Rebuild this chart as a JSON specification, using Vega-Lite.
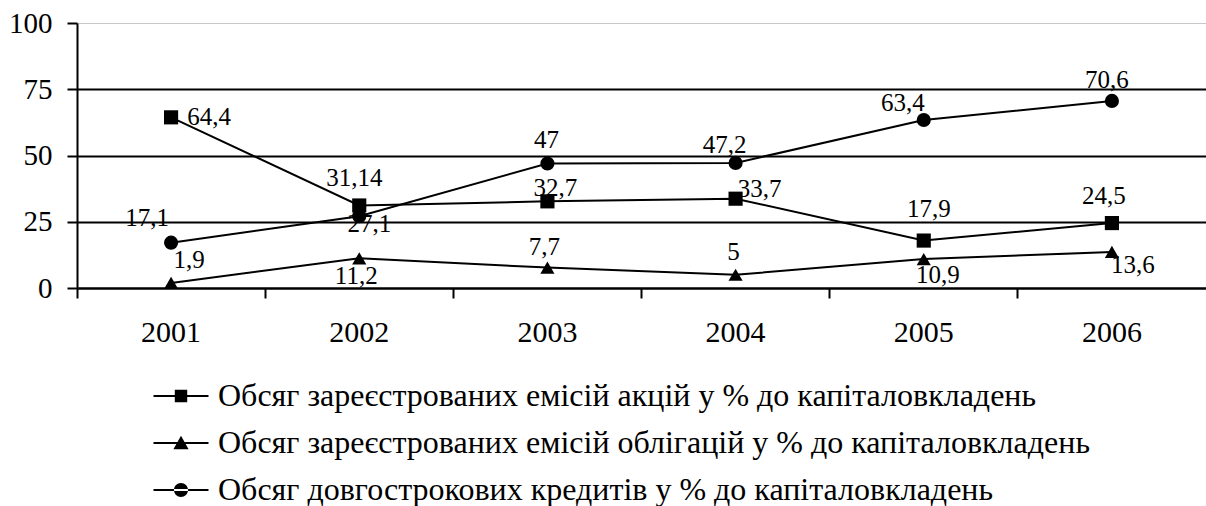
{
  "$schema": "https://vega.github.io/schema/vega-lite/v6.json",
  "autosize": {"type": "none"},
  "padding": {"left": 77, "top": 23, "right": 0, "bottom": 218},
  "width": 1129,
  "height": 265,
  "background": "white",
  "data": {
    "values": [
      {"year": "2001", "code": "A", "series": "Обсяг зареєстрованих емісій акцій у % до капіталовкладень", "value": 64.4, "label": "64,4"},
      {"year": "2002", "code": "A", "series": "Обсяг зареєстрованих емісій акцій у % до капіталовкладень", "value": 31.14, "label": "31,14"},
      {"year": "2003", "code": "A", "series": "Обсяг зареєстрованих емісій акцій у % до капіталовкладень", "value": 32.7, "label": "32,7"},
      {"year": "2004", "code": "A", "series": "Обсяг зареєстрованих емісій акцій у % до капіталовкладень", "value": 33.7, "label": "33,7"},
      {"year": "2005", "code": "A", "series": "Обсяг зареєстрованих емісій акцій у % до капіталовкладень", "value": 17.9, "label": "17,9"},
      {"year": "2006", "code": "A", "series": "Обсяг зареєстрованих емісій акцій у % до капіталовкладень", "value": 24.5, "label": "24,5"},
      {"year": "2001", "code": "B", "series": "Обсяг зареєстрованих емісій облігацій у % до капіталовкладень", "value": 1.9, "label": "1,9"},
      {"year": "2002", "code": "B", "series": "Обсяг зареєстрованих емісій облігацій у % до капіталовкладень", "value": 11.2, "label": "11,2"},
      {"year": "2003", "code": "B", "series": "Обсяг зареєстрованих емісій облігацій у % до капіталовкладень", "value": 7.7, "label": "7,7"},
      {"year": "2004", "code": "B", "series": "Обсяг зареєстрованих емісій облігацій у % до капіталовкладень", "value": 5, "label": "5"},
      {"year": "2005", "code": "B", "series": "Обсяг зареєстрованих емісій облігацій у % до капіталовкладень", "value": 10.9, "label": "10,9"},
      {"year": "2006", "code": "B", "series": "Обсяг зареєстрованих емісій облігацій у % до капіталовкладень", "value": 13.6, "label": "13,6"},
      {"year": "2001", "code": "C", "series": "Обсяг довгострокових кредитів у % до капіталовкладень", "value": 17.1, "label": "17,1"},
      {"year": "2002", "code": "C", "series": "Обсяг довгострокових кредитів у % до капіталовкладень", "value": 27.1, "label": "27,1"},
      {"year": "2003", "code": "C", "series": "Обсяг довгострокових кредитів у % до капіталовкладень", "value": 47, "label": "47"},
      {"year": "2004", "code": "C", "series": "Обсяг довгострокових кредитів у % до капіталовкладень", "value": 47.2, "label": "47,2"},
      {"year": "2005", "code": "C", "series": "Обсяг довгострокових кредитів у % до капіталовкладень", "value": 63.4, "label": "63,4"},
      {"year": "2006", "code": "C", "series": "Обсяг довгострокових кредитів у % до капіталовкладень", "value": 70.6, "label": "70,6"}
    ]
  },
  "encoding": {
    "x": {
      "field": "year", "type": "ordinal",
      "scale": {"type": "band", "paddingInner": 0, "paddingOuter": 0},
      "axis": {
        "title": null, "labelAngle": 0, "bandPosition": 0, "grid": false,
        "domainColor": "black", "domainWidth": 2,
        "tickColor": "black", "tickWidth": 2, "tickSize": 10,
        "labelFont": "Liberation Serif", "labelFontSize": 30, "labelColor": "black", "labelPadding": 19
      }
    },
    "y": {
      "field": "value", "type": "quantitative",
      "scale": {"domain": [0, 100], "nice": false, "zero": true},
      "axis": {
        "title": null, "values": [0, 25, 50, 75, 100],
        "domainColor": "black", "domainWidth": 2,
        "tickColor": "black", "tickWidth": 2, "tickSize": 10,
        "labelFont": "Liberation Serif", "labelFontSize": 29, "labelColor": "black", "labelPadding": 15,
        "grid": true,
        "gridColor": {"condition": {"test": "datum.value === 100", "value": "#c8c8c8"}, "value": "black"},
        "gridWidth": {"condition": {"test": "datum.value === 100", "value": 1}, "value": 2}
      }
    }
  },
  "layer": [
    {
      "mark": {"type": "line", "color": "black", "strokeWidth": 2},
      "encoding": {"detail": {"field": "code"}}
    },
    {
      "mark": {"type": "point", "filled": true, "color": "black", "opacity": 1, "size": 200},
      "encoding": {
        "shape": {
          "field": "series", "type": "nominal",
          "scale": {
            "domain": [
              "Обсяг зареєстрованих емісій акцій у % до капіталовкладень",
              "Обсяг зареєстрованих емісій облігацій у % до капіталовкладень",
              "Обсяг довгострокових кредитів у % до капіталовкладень"
            ],
            "range": ["square", "triangle-up", "circle"]
          },
          "legend": null
        }
      }
    },
    {
      "transform": [{"filter": "datum.value < 0"}],
      "mark": {"type": "point", "filled": true, "color": "black", "opacity": 1},
      "encoding": {
        "shape": {
          "field": "series", "type": "nominal",
          "scale": {
            "domain": [
              "Обсяг зареєстрованих емісій акцій у % до капіталовкладень",
              "Обсяг зареєстрованих емісій облігацій у % до капіталовкладень",
              "Обсяг довгострокових кредитів у % до капіталовкладень"
            ],
            "range": [
              "M-2.75,-0.1H2.75V0.1H-2.75Z M-0.62,-0.62H0.62V0.62H-0.62Z",
              "M-2.75,-0.1H2.75V0.1H-2.75Z M0,-0.72L0.76,0.62L-0.76,0.62Z",
              "M-2.75,-0.1H2.75V0.1H-2.75Z M-0.7,0A0.7,0.7 0 1,0 0.7,0A0.7,0.7 0 1,0 -0.7,0Z"
            ]
          },
          "legend": {
            "title": null, "orient": "none", "legendX": 88, "legendY": 357, "padding": 0,
            "labelFont": "Liberation Serif", "labelFontSize": 32, "labelColor": "black", "labelLimit": 0,
            "labelOffset": 21, "rowPadding": 15, "symbolSize": 400,
            "symbolFillColor": "black", "symbolOpacity": 1
          }
        }
      }
    },
    {
      "encoding": {"text": {"field": "label", "type": "nominal"}},
      "layer": [
        {"transform": [{"filter": "datum.code == 'A' && datum.year == '2001'"}], "mark": {"type": "text", "dx": 38, "dy": 8}},
        {"transform": [{"filter": "datum.code == 'A' && datum.year == '2002'"}], "mark": {"type": "text", "dx": -5, "dy": -19}},
        {"transform": [{"filter": "datum.code == 'A' && datum.year == '2003'"}], "mark": {"type": "text", "dx": 8, "dy": -5}},
        {"transform": [{"filter": "datum.code == 'A' && datum.year == '2004'"}], "mark": {"type": "text", "dx": 24, "dy": -2}},
        {"transform": [{"filter": "datum.code == 'A' && datum.year == '2005'"}], "mark": {"type": "text", "dx": 5, "dy": -24}},
        {"transform": [{"filter": "datum.code == 'A' && datum.year == '2006'"}], "mark": {"type": "text", "dx": -8, "dy": -19}},
        {"transform": [{"filter": "datum.code == 'B' && datum.year == '2001'"}], "mark": {"type": "text", "dx": 18, "dy": -15}},
        {"transform": [{"filter": "datum.code == 'B' && datum.year == '2002'"}], "mark": {"type": "text", "dx": -3, "dy": 26}},
        {"transform": [{"filter": "datum.code == 'B' && datum.year == '2003'"}], "mark": {"type": "text", "dx": -3, "dy": -13}},
        {"transform": [{"filter": "datum.code == 'B' && datum.year == '2004'"}], "mark": {"type": "text", "dx": -2, "dy": -15}},
        {"transform": [{"filter": "datum.code == 'B' && datum.year == '2005'"}], "mark": {"type": "text", "dx": 14, "dy": 24}},
        {"transform": [{"filter": "datum.code == 'B' && datum.year == '2006'"}], "mark": {"type": "text", "dx": 21, "dy": 21}},
        {"transform": [{"filter": "datum.code == 'C' && datum.year == '2001'"}], "mark": {"type": "text", "dx": -24, "dy": -17}},
        {"transform": [{"filter": "datum.code == 'C' && datum.year == '2002'"}], "mark": {"type": "text", "dx": 10, "dy": 16}},
        {"transform": [{"filter": "datum.code == 'C' && datum.year == '2003'"}], "mark": {"type": "text", "dx": -1, "dy": -15}},
        {"transform": [{"filter": "datum.code == 'C' && datum.year == '2004'"}], "mark": {"type": "text", "dx": -11, "dy": -10}},
        {"transform": [{"filter": "datum.code == 'C' && datum.year == '2005'"}], "mark": {"type": "text", "dx": -21, "dy": -9}},
        {"transform": [{"filter": "datum.code == 'C' && datum.year == '2006'"}], "mark": {"type": "text", "dx": -5, "dy": -13}}
      ]
    }
  ],
  "resolve": {"scale": {"shape": "independent"}},
  "config": {
    "font": "Liberation Serif",
    "view": {"stroke": null},
    "text": {"font": "Liberation Serif", "fontSize": 25, "color": "black", "align": "center", "baseline": "alphabetic"}
  }
}
